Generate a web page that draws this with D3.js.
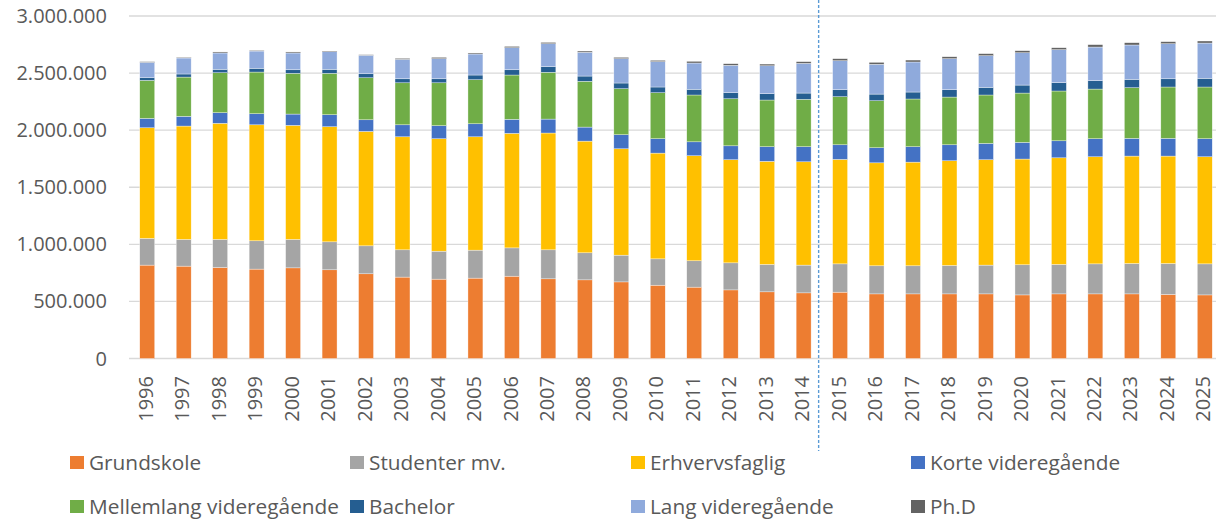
<!DOCTYPE html>
<html>
<head>
<meta charset="utf-8">
<script src="https://cdn.jsdelivr.net/npm/d3@7"></script>
<style>
  body { margin: 0; background: #fff; }
  svg text { font-family: 'Open Sans', 'Noto Sans', sans-serif; fill: #595959; }
</style>
</head>
<body>
<div id="chart"></div>
<script>
const years = d3.range(1996, 2026).map(String);

// persons (thousands)
const grundskole = [818, 809, 797, 783, 794, 777, 742, 713, 695, 704, 721, 698, 689, 671, 642,
  625, 601, 584, 575, 581, 566, 566, 566, 566, 557, 566, 566, 566, 561, 557];
const studenter = [234, 234, 246, 248, 249, 245, 245, 239, 245, 245, 248, 254, 237, 234, 231,
  231, 237, 240, 243, 248, 246, 246, 249, 252, 264, 258, 263, 266, 271, 272];
const erhvervsfaglig = [969, 993, 1017, 1016, 999, 1008, 1002, 990, 985, 993, 1003, 1023, 978, 932, 926,
  920, 903, 903, 905, 915, 902, 908, 917, 923, 926, 934, 938, 941, 941, 938];
const korte = [82, 85, 93, 97, 99, 105, 102, 105, 114, 114, 123, 122, 123, 123, 126,
  122, 122, 128, 132, 128, 132, 135, 140, 143, 146, 149, 158, 155, 155, 158];
const mellemlang = [333, 344, 350, 365, 357, 363, 368, 368, 376, 386, 388, 410, 401, 403, 403,
  410, 412, 409, 415, 421, 412, 418, 418, 424, 432, 436, 435, 444, 450, 453];
const bachelor = [23, 27, 30, 33, 31, 35, 35, 35, 35, 41, 46, 49, 46, 50, 50,
  50, 53, 55, 55, 61, 58, 61, 64, 67, 70, 73, 73, 73, 72, 76];
const lang = [135, 140, 143, 151, 147, 154, 162, 170, 176, 184, 193, 201, 208, 213, 222,
  230, 240, 245, 260, 254, 261, 263, 272, 277, 283, 289, 295, 301, 307, 309];
const phd = [6, 6, 9, 6, 9, 6, 5, 9, 12, 9, 12, 12, 11, 12, 12,
  15, 14, 15, 15, 18, 17, 17, 17, 18, 18, 17, 21, 20, 18, 18];

const seriesNames = ['Grundskole', 'Studenter mv.', 'Erhvervsfaglig', 'Korte videregående',
  'Mellemlang videregående', 'Bachelor', 'Lang videregående', 'Ph.D'];
const seriesColors = ['#ED7D31', '#A5A5A5', '#FFC000', '#4472C4', '#70AD47', '#255E91', '#8FAADC', '#636363'];
const yTicks = [0, 500000, 1000000, 1500000, 2000000, 2500000, 3000000];
const splitYear = '2014';

const seriesValues = [grundskole, studenter, erhvervsfaglig, korte, mellemlang, bachelor, lang, phd];
const rows = years.map((yr, i) => {
  const r = { year: yr };
  seriesNames.forEach((s, k) => { r[s] = seriesValues[k][i] * 1000; });
  return r;
});

const W = 1216, H = 525;
const svg = d3.select('#chart').append('svg').attr('width', W).attr('height', H);

const x = d3.scaleBand().domain(years).range([129, 1223]).paddingInner(0.59).paddingOuter(0.295);
const y = d3.scaleLinear().domain([0, 3000000]).range([358.5, 16]);

const fmt = v => d3.format(',')(v).replace(/,/g, '.');

// gridlines
svg.append('g').selectAll('line').data(yTicks).join('line')
  .attr('x1', 129).attr('x2', W)
  .attr('y1', d => y(d)).attr('y2', d => y(d))
  .attr('stroke', '#D9D9D9').attr('stroke-width', 1.3);

svg.append('g').selectAll('text').data(yTicks).join('text')
  .attr('x', 107).attr('y', d => y(d)).attr('dy', '0.35em')
  .attr('text-anchor', 'end').style('font-size', '20px')
  .text(fmt);

const stacked = d3.stack().keys(seriesNames)(rows);

svg.append('g').selectAll('g').data(stacked).join('g')
  .attr('fill', (d, i) => seriesColors[i])
  .selectAll('rect').data(d => d).join('rect')
  .attr('x', d => x(d.data.year))
  .attr('width', x.bandwidth())
  .attr('y', d => y(d[1]))
  .attr('height', d => y(d[0]) - y(d[1]))
  .attr('stroke', '#fff').attr('stroke-width', 0.5).attr('stroke-opacity', 0.7);

// year labels, rotated
svg.append('g').selectAll('text').data(years).join('text')
  .attr('transform', d => `translate(${x(d) + x.bandwidth() / 2 - 1}, 376) rotate(-90)`)
  .attr('text-anchor', 'end').attr('dy', '0.33em')
  .style('font-size', '20px')
  .text(d => d);

// forecast divider
const gap = x.step() - x.bandwidth();
const divX = x(splitYear) + x.bandwidth() + gap * 0.35;
svg.append('line')
  .attr('x1', divX).attr('x2', divX).attr('y1', 0).attr('y2', 451)
  .attr('stroke', '#5B9BD5').attr('stroke-width', 1.4)
  .attr('stroke-dasharray', '3,2');

// legend: 4 columns, 2 rows
const legX = [70, 350, 631, 911];
const legY = [463, 507];
const leg = svg.append('g').selectAll('g').data(seriesNames).join('g')
  .attr('transform', (d, i) => `translate(${legX[i % 4]}, ${legY[Math.floor(i / 4)]})`);
leg.append('rect')
  .attr('x', 0).attr('y', -7).attr('width', 14).attr('height', 13)
  .attr('fill', (d, i) => seriesColors[i]);
leg.append('text')
  .attr('x', 19).attr('dy', '0.35em')
  .style('font-size', '20.8px')
  .text(d => d);
</script>
</body>
</html>
